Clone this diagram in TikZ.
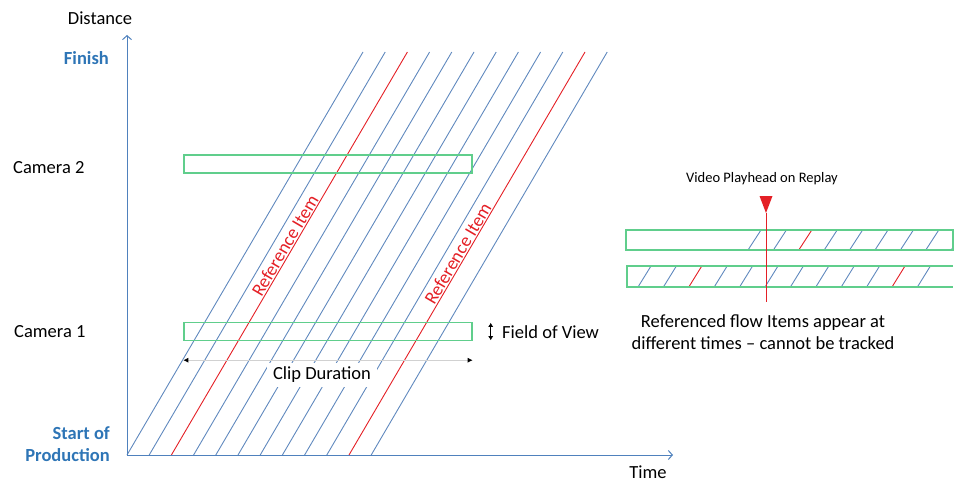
\documentclass[tikz,border=0pt]{standalone}
\usepackage{fontspec}
\setmainfont{Carlito}
\usetikzlibrary{arrows.meta}
\definecolor{axisblue}{RGB}{79,129,189}
\definecolor{flowblue}{RGB}{96,137,190}
\definecolor{refred}{RGB}{228,32,38}
\definecolor{camgreen}{RGB}{96,206,140}
\definecolor{titleblue}{RGB}{46,117,182}
\tikzset{
    axis/.style = {
        draw=axisblue, line width=1pt,
        -{Straight Barb[length=4pt, width=9pt]}
    },
    flowline/.style = {draw=flowblue, line width=0.9pt},
    refline/.style = {draw=refred, line width=0.9pt},
    camerabox/.style = {
        rectangle, draw=camgreen, line width=1.4pt,
        minimum width=288pt, minimum height=18pt
    },
    stripbox/.style = {draw=camgreen, line width=1.4pt},
    label/.style = {font=\fontsize{18.5}{22}\selectfont, inner sep=0pt},
    heading/.style = {label, font=\fontsize{18.5}{22}\selectfont\bfseries, text=titleblue},
    small/.style = {font=\fontsize{14.5}{17}\selectfont, inner sep=0pt},
    dimarrow/.style = {
        draw=black!18, line width=0.8pt,
        {Latex[length=5pt, width=5pt, black]}-{Latex[length=5pt, width=5pt, black]}
    }
}

\begin{document}
\begin{tikzpicture}[x=1pt, y=-1pt]
\useasboundingbox (0,0) rectangle (962,495);

% axes
\coordinate (origin) at (127,455);
\coordinate (ytip) at (127,35);
\coordinate (xtip) at (673,455);

\node[label] (distance) at (100,18) {Distance};
\node[label] (time) at (648,472) {Time};
\node[heading, anchor=east] (finish) at (109,58) {Finish};
\node[heading, anchor=east, align=right] (start) at (110,444) {Start of\\Production};

% flow items
\foreach \k [evaluate=\k as \xb using 127+22.2*\k] in {0,1,3,4,5,6,7,8,9,11}
    \draw[flowline] (\xb,455) -- ++(236,-403);

\draw[refline] (171.4,455) -- ++(236,-403)
    node[pos=0.51, sloped, above=1pt, label, text=refred] (ref1) {Reference Item};
\draw[refline] (349,455) -- ++(236,-403)
    node[pos=0.49, sloped, above=1pt, label, text=refred] (ref2) {Reference Item};

\draw[axis] (origin) -- (ytip);
\draw[axis] (origin) -- (xtip);

% cameras
\node[camerabox] (cam2box) at (328,164) {};
\node[camerabox] (cam1box) at (328,331.5) {};
\node[label, anchor=west] (cam2) at (13,168) {Camera 2};
\node[label, anchor=west] (cam1) at (14,332) {Camera 1};

\draw[{Latex[length=4pt, width=5pt]}-{Latex[length=4pt, width=5pt]}, line width=0.6pt]
    ([xshift=18pt, yshift=-1pt]cam1box.north east) -- ([xshift=18pt, yshift=1pt]cam1box.south east);
\node[label, anchor=west] (fov) at (502,332) {Field of View};

\node[label, fill=white, inner xsep=6pt, inner ysep=4pt] (clip) at (322,375) {Clip Duration};
\draw[dimarrow] ([yshift=-19pt]cam1box.south west) -- ([yshift=-19pt]cam1box.south east);

% replay strips
\coordinate (strip1sw) at (626,250);
\coordinate (strip1ne) at (953,230);
\begin{scope}
    \clip (strip1sw) rectangle (strip1ne);
    \foreach \k [evaluate=\k as \xb using 748+25.4*\k] in {0,1,3,4,5,6,7,8}
        \draw[flowline] (\xb,250) -- ++(13,-20);
    \draw[refline] (798.8,250) -- ++(13,-20);
\end{scope}
\draw[stripbox] (strip1sw) rectangle (strip1ne);

\foreach \k [evaluate=\k as \xb using 638+25.4*\k] in {0,1,3,4,5,6,7,8,9,11}
    \draw[flowline] (\xb,287) -- ++(13,-21);
\draw[refline] (688.8,287) -- ++(13,-21);
\draw[refline] (892,287) -- ++(13,-21);
\draw[stripbox] (953,266) -- (627,266) -- (627,287) -- (953,287);

% playhead
\node[small] (playhead) at (762,179) {Video Playhead on Replay};
\coordinate (headtip) at (766,213);
\coordinate (headend) at (766,302);
\fill[refred] (759.5,196) -- (772.5,196) -- (headtip) -- cycle;
\draw[refred, line width=1pt] (headtip) -- (headend);

\node[label, align=center] (note) at (763,332)
    {Referenced flow Items appear at\\different times -- cannot be tracked};

\end{tikzpicture}
\end{document}
